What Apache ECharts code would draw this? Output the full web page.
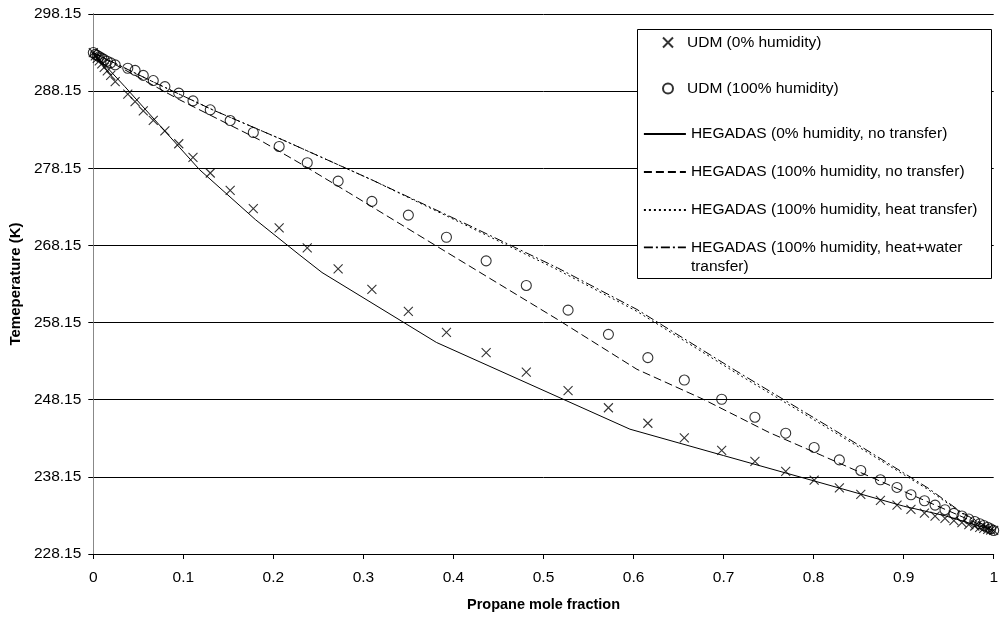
<!DOCTYPE html>
<html>
<head>
<meta charset="utf-8">
<script src="https://cdn.jsdelivr.net/npm/echarts@6/dist/echarts.min.js"></script>
<style>html,body{margin:0;padding:0;background:#fff;}#c{width:1001px;height:617px;}</style>
</head>
<body>
<div id="c"></div>
<script>
// ---- data ----
const xTicks = [0, 0.1, 0.2, 0.3, 0.4, 0.5, 0.6, 0.7, 0.8, 0.9, 1];
const yTicks = [228.15, 238.15, 248.15, 258.15, 268.15, 278.15, 288.15, 298.15];

const seriesNames = [
  'UDM (0% humidity)',
  'UDM (100% humidity)',
  'HEGADAS (0% humidity, no transfer)',
  'HEGADAS (100% humidity, no transfer)',
  'HEGADAS (100% humidity, heat transfer)',
  'HEGADAS (100% humidity, heat+water transfer)'
];

const xUDM = [0, 0.0022, 0.0044, 0.0066, 0.0094, 0.0121, 0.0155, 0.0193, 0.0243, 0.0383,
  0.0464, 0.0555, 0.0666, 0.0795, 0.0949, 0.1107, 0.1299, 0.152, 0.1777, 0.2064,
  0.2376, 0.2719, 0.3094, 0.3499, 0.3922, 0.4363, 0.4809, 0.5273, 0.5721, 0.6159,
  0.6564, 0.6979, 0.7348, 0.769, 0.8006, 0.8286, 0.8524, 0.8742, 0.8926, 0.9081,
  0.9231, 0.9349, 0.9459, 0.9558, 0.9647, 0.9724, 0.979, 0.9845, 0.989, 0.9934,
  0.9967, 1.0];
const tUDM0 = [293.15, 292.72, 292.39, 292.07, 291.68, 291.23, 290.78, 290.19, 289.39, 287.76,
  286.80, 285.60, 284.35, 283.01, 281.33, 279.56, 277.54, 275.29, 272.92, 270.42,
  267.84, 265.12, 262.44, 259.59, 256.88, 254.25, 251.74, 249.33, 247.11, 245.10,
  243.20, 241.57, 240.15, 238.85, 237.73, 236.73, 235.88, 235.10, 234.49, 233.94,
  233.46, 233.07, 232.77, 232.49, 232.23, 231.97, 231.78, 231.61, 231.48, 231.35,
  231.26, 231.2];
const tUDM100 = [293.15, 292.91, 292.78, 292.61, 292.43, 292.24, 292.03, 291.81, 291.55, 291.12,
  290.84, 290.19, 289.52, 288.74, 287.89, 286.89, 285.73, 284.34, 282.79, 280.98,
  278.87, 276.48, 273.86, 272.08, 269.21, 266.15, 262.96, 259.76, 256.62, 253.60,
  250.70, 248.21, 245.88, 243.81, 241.96, 240.35, 238.98, 237.77, 236.78, 235.83,
  235.05, 234.49, 233.89, 233.42, 233.07, 232.68, 232.36, 232.07, 231.84, 231.61,
  231.41, 231.2];

const xHeg0 = [0, 0.035, 0.118, 0.18, 0.2285, 0.254, 0.381, 0.596, 0.70, 0.80, 0.90, 0.946, 1.0];
const tHeg0 = [293.15, 288.74, 277.97, 271.50, 266.97, 264.64, 255.58, 244.33, 240.91, 237.64, 234.35, 233.11, 231.2];

const xHeg100 = [0, 0.096, 0.1843, 0.2285, 0.2837, 0.383, 0.5155, 0.6038, 0.6774, 0.7506, 0.8102, 0.8687, 1.0];
const tHeg100 = [293.15, 287.02, 281.85, 278.87, 274.99, 267.94, 258.56, 252.09, 248.21, 243.90, 240.87, 237.86, 231.2];

const xHegHeat = [0, 0.0629, 0.1325, 0.21, 0.309, 0.4194, 0.5155, 0.6038, 0.7141, 0.8245, 0.9272, 0.9643, 1.0];
const tHegHeat = [293.15, 289.55, 285.73, 281.85, 276.67, 270.45, 265.0, 259.6, 251.6, 243.85, 236.5, 233.45, 231.2];

const xHegHW = [0, 0.0629, 0.1325, 0.21, 0.309, 0.4194, 0.5155, 0.6038, 0.7141, 0.8245, 0.9272, 0.9643, 1.0];
const tHegHW = [293.15, 289.55, 285.73, 281.85, 276.67, 270.63, 265.25, 259.85, 251.87, 244.11, 236.69, 233.55, 231.2];

// ---- build ----
const zip = (xs, ys) => xs.map((x, i) => [x, ys[i]]);
const FONT = 'Liberation Sans, Arial, sans-serif';
const crossPath = 'path://M0,0L10,10M10,0L0,10';

const chart = echarts.init(document.getElementById('c'), null, {renderer: 'canvas'});

function lineSeries(name, data, type) {
  return {
    name: name, type: 'line', data: data, symbol: 'none', smooth: false,
    lineStyle: {color: '#000', width: 1, type: type},
    itemStyle: {color: '#000'},
    z: 2
  };
}

const legendText = {color: '#000', fontFamily: FONT, fontSize: 15.5, lineHeight: 19};

const option = {
  backgroundColor: '#fff',
  animation: false,
  grid: {left: 93, right: 2, top: 14, bottom: 62, containLabel: false},
  xAxis: {
    type: 'value', min: 0, max: 1, interval: 0.1,
    name: 'Propane mole fraction', nameLocation: 'middle', nameGap: 43,
    nameTextStyle: {fontFamily: FONT, fontSize: 14.5, fontWeight: 'bold', color: '#000'},
    axisLine: {show: true, onZero: false, lineStyle: {color: '#000', width: 1}},
    axisTick: {show: true, inside: false, length: 5, lineStyle: {color: '#000'}},
    axisLabel: {
      margin: 16, fontFamily: FONT, fontSize: 15.5, color: '#000',
      formatter: v => {
        const t = xTicks.find(k => Math.abs(k - v) < 1e-6);
        return t === undefined ? '' : String(t);
      }
    },
    splitLine: {show: false}
  },
  yAxis: [{
    type: 'value', min: yTicks[0], max: yTicks[yTicks.length - 1], interval: 10,
    name: 'Temeperature (K)', nameLocation: 'middle', nameGap: 64, nameRotate: 90,
    nameTextStyle: {fontFamily: FONT, fontSize: 15, fontWeight: 'bold', color: '#000'},
    axisLine: {show: true, onZero: false, lineStyle: {color: '#000', width: 1}},
    axisTick: {show: true, inside: false, length: 5, lineStyle: {color: '#000'}},
    axisLabel: {
      margin: 12, fontFamily: FONT, fontSize: 15.5, color: '#000',
      formatter: v => {
        const t = yTicks.find(k => Math.abs(k - v) < 1e-6);
        return t === undefined ? '' : t.toFixed(2);
      }
    },
    splitLine: {show: true, lineStyle: {color: '#000', width: 1}}
  }, {
    type: 'value', position: 'right', min: yTicks[0], max: yTicks[yTicks.length - 1], interval: 10,
    axisLine: {show: true, lineStyle: {color: '#888', width: 1}},
    axisTick: {show: false}, axisLabel: {show: false}, splitLine: {show: false}
  }],
  graphic: [{
    type: 'rect', z: 3, silent: true,
    shape: {x: 637.5, y: 29.5, width: 354, height: 249},
    style: {fill: '#fff', stroke: '#000', lineWidth: 1}
  }],
  legend: [{
    orient: 'vertical', left: 662, top: 33, itemGap: 27, itemWidth: 28, itemHeight: 10,
    padding: 0, z: 10, data: [seriesNames[0], seriesNames[1]], textStyle: legendText,
    selectedMode: false
  }, {
    orient: 'vertical', left: 643, top: 124.5, itemGap: 19, itemWidth: 42, itemHeight: 10,
    padding: 0, z: 10, data: [seriesNames[2], seriesNames[3], seriesNames[4]], textStyle: legendText,
    itemStyle: {opacity: 0}, lineStyle: {width: 1.8},
    selectedMode: false
  }, {
    orient: 'vertical', left: 643, top: 218.8, itemGap: 19, itemWidth: 42, itemHeight: 10,
    padding: 0, z: 10, data: [seriesNames[5]],
    textStyle: legendText,
    itemStyle: {opacity: 0}, lineStyle: {width: 1.8},
    formatter: n => n === seriesNames[5] ? '\nHEGADAS (100% humidity, heat+water\ntransfer)' : n,
    selectedMode: false
  }],
  series: [
    {
      name: seriesNames[0], type: 'scatter', data: zip(xUDM, tUDM0),
      symbol: crossPath, symbolSize: 9,
      itemStyle: {color: 'rgba(0,0,0,0)', borderColor: '#000', borderWidth: 1.1},
      z: 3
    },
    {
      name: seriesNames[1], type: 'scatter', data: zip(xUDM, tUDM100),
      symbol: 'circle', symbolSize: 10,
      itemStyle: {color: 'rgba(0,0,0,0)', borderColor: '#000', borderWidth: 1.1},
      z: 3
    },
    lineSeries(seriesNames[2], zip(xHeg0, tHeg0), 'solid'),
    lineSeries(seriesNames[3], zip(xHeg100, tHeg100), [8, 4]),
    lineSeries(seriesNames[4], zip(xHegHeat, tHegHeat), [2, 3]),
    lineSeries(seriesNames[5], zip(xHegHW, tHegHW), [9, 3, 2, 3])
  ]
};
chart.setOption(option);
</script>
</body>
</html>
